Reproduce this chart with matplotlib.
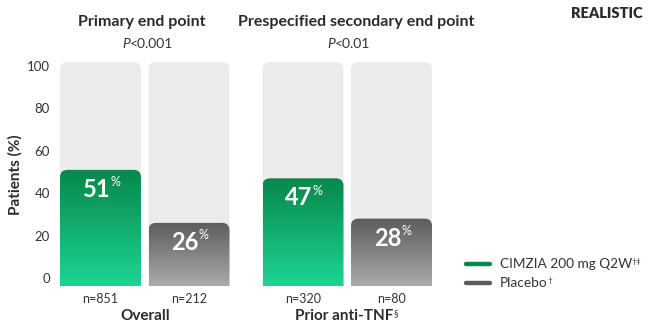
import numpy as np
import matplotlib
matplotlib.use("Agg")
import matplotlib.pyplot as plt
from matplotlib.patches import FancyBboxPatch
from matplotlib.colors import LinearSegmentedColormap
from matplotlib.transforms import blended_transform_factory

plt.rcParams['font.family'] = ['Lato', 'DejaVu Sans']

# ---- data ----
groups = ["Overall", "Prior anti-TNF"]
group_sup = ["", "§"]
series = ["CIMZIA 200 mg Q2W", "Placebo"]
series_sup = ["†‡", "†"]
values = [51, 26, 47, 28]            # bar order: CIMZIA, Placebo, CIMZIA, Placebo
n_labels = ["n=851", "n=212", "n=320", "n=80"]
bar_series = [0, 1, 0, 1]
titles = ["Primary end point", "Prespecified secondary end point"]
pvals = ["0.001", "0.01"]
yticks = [0, 20, 40, 60, 80, 100]

# ---- layout ----
W, H = 650, 336
fig = plt.figure(figsize=(W / 100, H / 100), dpi=100)
fig.patch.set_facecolor("white")

def fx(px):
    return px / W

def fy(py):
    return 1 - py / H

ax_l, ax_r, ax_t, ax_b = 60, 432, 62, 286
ax = fig.add_axes([fx(ax_l), fy(ax_b), fx(ax_r - ax_l), (ax_b - ax_t) / H])
ymin, ymax = -3.8, 101.9
xpos = [0.0, 1.0, 2.288, 3.288]
bw = 0.915
xmin, xmax = xpos[0] - 0.4576, xpos[-1] + 0.4576

px_per_x = (ax_r - ax_l) / (xmax - xmin)
px_per_y = (ax_b - ax_t) / (ymax - ymin)
aspect = px_per_x / px_per_y
rad = 7.5 / px_per_x

top_cols = ["#07874b", "#5b5c5c"]
bot_cols = ["#1dd593", "#aaacab"]
bg_col = "#ebebeb"

for i, (x, v) in enumerate(zip(xpos, values)):
    # background track
    bg = FancyBboxPatch((x - bw / 2, -20), bw, ymax + 20,
                        boxstyle=f"round,pad=0,rounding_size={rad}",
                        mutation_aspect=aspect, fc=bg_col, ec="none", zorder=1)
    ax.add_patch(bg)
    # value bar
    s = bar_series[i]
    bar = FancyBboxPatch((x - bw / 2, -20), bw, v + 20,
                         boxstyle=f"round,pad=0,rounding_size={rad}",
                         mutation_aspect=aspect, fc="none", ec="none", zorder=2)
    ax.add_patch(bar)
    cmap = LinearSegmentedColormap.from_list(f"g{i}", [bot_cols[s], top_cols[s]])
    grad = np.linspace(0, 1, 256).reshape(-1, 1)
    im = ax.imshow(grad, cmap=cmap, origin="lower", aspect="auto",
                   extent=[x - bw / 2, x + bw / 2, ymin, v], zorder=2,
                   interpolation="bilinear")
    im.set_clip_path(bar)
    # value label
    t = ax.annotate(f"{v}", xy=(x, v), xytext=(-3, -14), textcoords="offset points",
                    ha="center", va="center", color="white", fontsize=17,
                    fontweight="bold", zorder=5)
    ax.annotate("%", xy=(1, 1), xycoords=t, xytext=(0, 1), textcoords="offset points",
                ha="left", va="top", color="white", fontsize=9, zorder=5)

ax.set_xlim(xmin, xmax)
ax.set_ylim(ymin, ymax)
for sp in ax.spines.values():
    sp.set_visible(False)
ax.set_xticks([])
ax.set_yticks(yticks)
ax.set_yticklabels([str(t) for t in yticks])
ax.tick_params(axis="y", length=0, pad=7.2, labelsize=9.5, labelcolor="#333333")

# y label
fig.text(fx(15), fy(175), "Patients (%)", rotation=90, ha="center", va="center",
         fontsize=11, fontweight="bold", color="#2b2b2b")

# n labels & group labels
tr = blended_transform_factory(ax.transData, fig.transFigure)
for x, n in zip(xpos, n_labels):
    ax.text(x, fy(299), n, transform=tr, ha="center", va="center",
            fontsize=9, color="#333333")
gcent = [(xpos[0] + xpos[1]) / 2, (xpos[2] + xpos[3]) / 2]
for gx, g, gs in zip(gcent, groups, group_sup):
    off = -2 if gs else 0
    gt = ax.annotate(g, xy=(gx, fy(316)), xycoords=tr, xytext=(off, 0),
                     textcoords="offset points", ha="center", va="center",
                     fontsize=11, fontweight="bold", color="#2b2b2b")
    if gs:
        ax.annotate(gs, xy=(1, 1), xycoords=gt, xytext=(0, 0),
                    textcoords="offset points", ha="left", va="top",
                    fontsize=6.5, color="#2b2b2b")

# titles
title_x = [141.5, 356]
p_left = [122, 327]
for tx, ti, pl, pv in zip(title_x, titles, p_left, pvals):
    fig.text(fx(tx), fy(22), ti, ha="center", va="center", fontsize=11.5,
             fontweight="bold", color="#2b2b2b")
    pt = fig.text(fx(pl), fy(44), "P", ha="left", va="center", fontsize=10,
                  style="italic", color="#333333")
    ax.annotate("<" + pv, xy=(1, 0.5), xycoords=pt, xytext=(0.3, 0),
                textcoords="offset points", ha="left", va="center", fontsize=10,
                color="#333333", annotation_clip=False)

fig.text(fx(643), fy(13), "REALISTIC", ha="right", va="center", fontsize=10.5,
         fontweight="heavy", color="#2b2b2b")

# legend
leg_y = [264, 283]
for s, (name, sup) in enumerate(zip(series, series_sup)):
    fig.add_artist(plt.Line2D([fx(466), fx(490)], [fy(leg_y[s]), fy(leg_y[s])],
                              color=top_cols[s], lw=3.2, solid_capstyle="round",
                              transform=fig.transFigure))
    lt = fig.text(fx(500), fy(leg_y[s]), name, ha="left", va="center",
                  fontsize=9.8, color="#333333")
    ax.annotate(sup, xy=(1, 1), xycoords=lt, xytext=(-0.5, 0),
                textcoords="offset points", ha="left", va="top",
                fontsize=6, color="#333333", annotation_clip=False)

fig.savefig("out.png", dpi=100)
